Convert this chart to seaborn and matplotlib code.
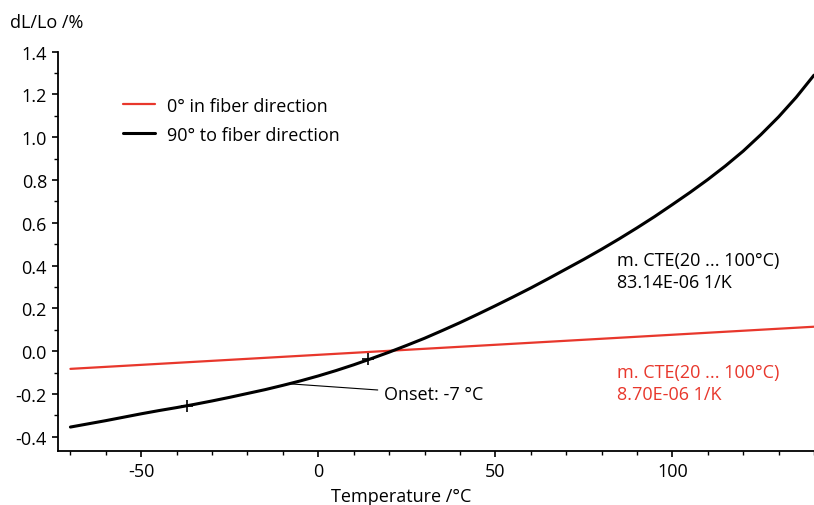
import numpy as np
import pandas as pd
import matplotlib
matplotlib.use("Agg")
import matplotlib.pyplot as plt
from matplotlib.ticker import MultipleLocator, FormatStrFormatter
from matplotlib.lines import Line2D
import seaborn as sns

# ── Data ───────────────────────────────────────────────────────────────────────
temp_90 = [-70, -65, -60, -55, -50, -45, -40, -35, -30, -25, -20, -15, -10, -5,
           0, 5, 10, 15, 20, 25, 30, 35, 40, 45, 50, 55, 60, 65, 70, 75, 80,
           85, 90, 95, 100, 105, 110, 115, 120, 125, 130, 135, 140]
dl_90 = [-0.355, -0.340, -0.325, -0.309, -0.293, -0.278, -0.264, -0.249,
         -0.233, -0.216, -0.198, -0.180, -0.160, -0.139, -0.116, -0.091,
         -0.064, -0.035, -0.005, 0.027, 0.060, 0.096, 0.133, 0.172, 0.212,
         0.253, 0.295, 0.339, 0.384, 0.429, 0.476, 0.525, 0.576, 0.629,
         0.685, 0.742, 0.802, 0.866, 0.935, 1.012, 1.095, 1.187, 1.290]

temp_0 = [-70, 140]
dl_0 = [-0.083, 0.114]

# onset construction
onset_marks_t = [-37, 14]
onset_marks_dl = [-0.256, -0.036]
onset_point = (-8, -0.153)
onset_label = "Onset: -7 °C"

label_0 = "0° in fiber direction"
label_90 = "90° to fiber direction"
cte_90 = "m. CTE(20 ... 100°C)\n83.14E-06 1/K"
cte_0 = "m. CTE(20 ... 100°C)\n8.70E-06 1/K"

RED = "#e8372c"
BLACK = "#000000"

df = pd.concat([
    pd.DataFrame({"T": temp_0, "dL": dl_0, "series": label_0}),
    pd.DataFrame({"T": temp_90, "dL": dl_90, "series": label_90}),
], ignore_index=True)

# ── Style ──────────────────────────────────────────────────────────────────────
sns.set_style("ticks", {"text.color": "black", "axes.labelcolor": "black",
                        "xtick.color": "black", "ytick.color": "black",
                        "axes.edgecolor": "black"})
plt.rcParams["font.family"] = ["Open Sans", "DejaVu Sans"]
plt.rcParams["axes.unicode_minus"] = False
FS = 13

fig = plt.figure(figsize=(8.14, 5.06), dpi=100)
ax = fig.add_axes([0.0713, 0.1067, 0.9287, 0.7893])

sns.lineplot(data=df, x="T", y="dL", hue="series",
             hue_order=[label_0, label_90],
             palette={label_0: RED, label_90: BLACK},
             size="series", sizes={label_0: 1.6, label_90: 2.2},
             ax=ax, legend=False, estimator=None, sort=True)

# onset marks and leader line
ax.plot(onset_marks_t, onset_marks_dl, ls="none", marker="+",
        ms=9, mew=1.2, color=BLACK)
ax.annotate(onset_label, xy=onset_point, xytext=(18.5, -0.2),
            fontsize=FS, va="center", ha="left", color=BLACK,
            arrowprops=dict(arrowstyle="-", color=BLACK, lw=0.8,
                            shrinkA=2, shrinkB=0))

ax.text(84.5, 0.373, cte_90, fontsize=FS, color=BLACK,
        va="center", ha="left", linespacing=1.3)
ax.text(84.5, -0.148, cte_0, fontsize=FS, color=RED,
        va="center", ha="left", linespacing=1.3)

# legend
handles = [Line2D([], [], color=RED, lw=1.6, label=label_0),
           Line2D([], [], color=BLACK, lw=2.2, label=label_90)]
leg = ax.legend(handles=handles, loc="upper left", bbox_to_anchor=(0.077, 0.905),
                frameon=False, fontsize=FS, handlelength=1.75, handletextpad=0.65,
                labelspacing=0.6, borderaxespad=0)
for t in leg.get_texts():
    t.set_color(BLACK)

# axes
ax.set_xlim(-73.5, 140)
ax.set_ylim(-0.467, 1.4)
ax.xaxis.set_major_locator(MultipleLocator(50))
ax.xaxis.set_minor_locator(MultipleLocator(10))
ax.yaxis.set_major_locator(MultipleLocator(0.2))
ax.yaxis.set_minor_locator(MultipleLocator(0.1))
ax.yaxis.set_major_formatter(FormatStrFormatter("%.1f"))
ax.tick_params(which="major", length=4.5, width=1.2, labelsize=FS,
               color=BLACK, labelcolor=BLACK)
ax.tick_params(which="minor", length=3, width=1.0, color=BLACK)
for s in ["top", "right"]:
    ax.spines[s].set_visible(False)
for s in ["left", "bottom"]:
    ax.spines[s].set_linewidth(1.3)
    ax.spines[s].set_color(BLACK)

ax.set_xlabel("Temperature /°C", fontsize=FS, color=BLACK)
ax.xaxis.set_label_coords(0.4536, -0.09)
ax.set_ylabel("")
fig.text(0.012, 0.955, "dL/Lo /%", fontsize=FS, ha="left", va="center",
         color=BLACK)

fig.savefig("out.png", dpi=100)
